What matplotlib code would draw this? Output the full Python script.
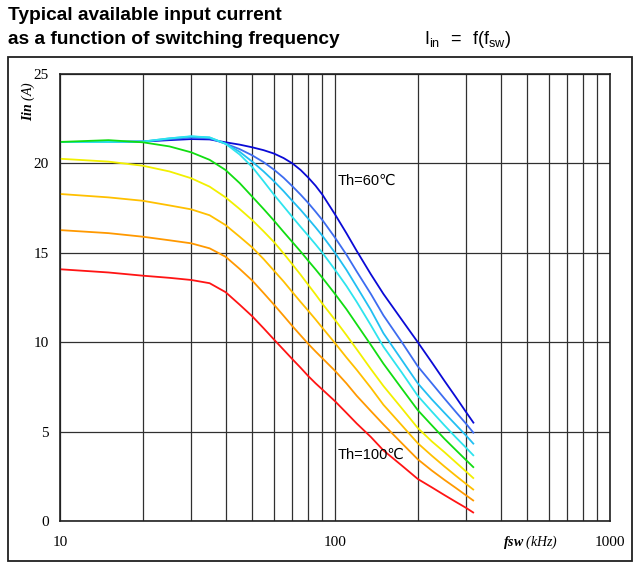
import matplotlib
matplotlib.use('Agg')
import matplotlib.pyplot as plt
from matplotlib.patches import Rectangle
from matplotlib.ticker import LogLocator, FixedFormatter, NullFormatter

plt.rcParams['mathtext.fontset'] = 'custom'
plt.rcParams['mathtext.rm'] = 'Liberation Serif:italic'
plt.rcParams['mathtext.it'] = 'Liberation Serif:italic'
plt.rcParams['mathtext.bf'] = 'Liberation Serif:italic:bold'

# switching frequency (kHz)
freq = [10, 15, 20, 25, 30, 35, 40, 45, 50, 55, 60, 65, 70, 75, 80, 85, 90,
        100, 110, 120, 135, 150, 175, 200, 225, 250, 275, 300, 320]

# available input current (A) per heatsink temperature
iin_60 = [21.2, 21.2, 21.22, 21.3, 21.36, 21.34, 21.18, 21.05, 20.9, 20.74, 20.55, 20.3, 20.0, 19.63, 19.2, 18.75, 18.25,
          17.15, 16.1, 15.1, 13.8, 12.7, 11.25, 10.0, 8.87, 7.84, 6.93, 6.08, 5.46]
iin_65 = [21.2, 21.2, 21.22, 21.35, 21.45, 21.4, 21.1, 20.8, 20.45, 20.07, 19.65, 19.2, 18.72, 18.25, 17.78, 17.3, 16.83,
          15.85, 14.9, 13.95, 12.7, 11.5, 10.0, 8.65, 7.7, 6.85, 6.1, 5.43, 4.9]
iin_70 = [21.2, 21.2, 21.22, 21.4, 21.5, 21.45, 21.1, 20.65, 20.1, 19.55, 19.0, 18.45, 17.9, 17.4, 16.9, 16.42, 15.95,
          15.0, 14.05, 13.1, 11.8, 10.5, 9.0, 7.7, 6.8, 6.05, 5.38, 4.77, 4.29]
iin_75 = [21.2, 21.2, 21.22, 21.4, 21.52, 21.45, 21.1, 20.5, 19.8, 19.0, 18.25, 17.6, 17.0, 16.45, 15.95, 15.47, 15.0,
          14.05, 13.15, 12.25, 10.95, 9.75, 8.3, 7.0, 6.12, 5.35, 4.68, 4.09, 3.64]
iin_80 = [21.2, 21.3, 21.18, 20.95, 20.62, 20.2, 19.63, 18.9, 18.14, 17.45, 16.8, 16.17, 15.6, 15.07, 14.55, 14.07, 13.6,
          12.7, 11.85, 11.0, 9.85, 8.8, 7.4, 6.2, 5.35, 4.6, 3.97, 3.4, 2.98]
iin_85 = [20.26, 20.1, 19.87, 19.55, 19.17, 18.7, 18.1, 17.45, 16.83, 16.2, 15.6, 14.97, 14.35, 13.77, 13.2, 12.67, 12.15,
          11.25, 10.4, 9.6, 8.5, 7.55, 6.3, 5.2, 4.45, 3.85, 3.28, 2.76, 2.37]
iin_90 = [18.29, 18.1, 17.91, 17.65, 17.43, 17.1, 16.55, 15.9, 15.3, 14.65, 14.0, 13.4, 12.8, 12.25, 11.75, 11.27, 10.8,
          9.95, 9.15, 8.45, 7.45, 6.5, 5.35, 4.35, 3.65, 3.05, 2.53, 2.07, 1.73]
iin_95 = [16.27, 16.1, 15.9, 15.7, 15.53, 15.25, 14.78, 14.1, 13.45, 12.75, 12.1, 11.48, 10.9, 10.38, 9.9, 9.48, 9.1,
          8.4, 7.7, 7.0, 6.15, 5.4, 4.35, 3.45, 2.82, 2.3, 1.85, 1.43, 1.12]
iin_100 = [14.08, 13.9, 13.72, 13.6, 13.48, 13.3, 12.8, 12.1, 11.45, 10.78, 10.15, 9.58, 9.05, 8.57, 8.1, 7.7, 7.35,
           6.7, 6.05, 5.45, 4.7, 3.95, 3.1, 2.35, 1.88, 1.45, 1.07, 0.73, 0.45]

curves = [iin_60, iin_65, iin_70, iin_75, iin_80, iin_85, iin_90, iin_95, iin_100]
colors = ['#0a0ad6', '#3d6cf0', '#22bff2', '#2ee4ee', '#11dd11',
          '#f2f000', '#ffc000', '#ff9900', '#ff1414']

fig = plt.figure(figsize=(6.43, 5.63), dpi=100)
ax = fig.add_axes([60 / 643, 1 - 521 / 563, 550 / 643, 447 / 563])

for vals, c in zip(curves, colors):
    ax.plot(freq, vals, color=c, lw=1.3, solid_capstyle='butt', solid_joinstyle='round')

ax.set_xscale('log')
ax.set_xlim(10, 1000)
ax.set_ylim(0, 25)
ax.set_yticks([0, 5, 10, 15, 20, 25])
ax.xaxis.set_minor_locator(LogLocator(base=10, subs=range(2, 10), numticks=20))
ax.xaxis.set_minor_formatter(NullFormatter())
ax.set_xticks([10, 100, 1000])
ax.xaxis.set_major_formatter(FixedFormatter(['10', '100', '1000']))

ax.grid(True, which='both', axis='x', color='#303030', lw=0.9)
ax.grid(True, which='major', axis='y', color='#303030', lw=0.9)
ax.tick_params(which='both', length=0)
ax.tick_params(axis='y', pad=8, labelsize=11)
ax.tick_params(axis='x', pad=11, labelsize=11)
for lab in ax.get_xticklabels() + ax.get_yticklabels():
    lab.set_fontfamily('Liberation Serif')
for sp in ax.spines.values():
    sp.set_linewidth(1.2)
    sp.set_color('#202020')

th_font = ['Liberation Sans', 'DejaVu Sans']
ax.text(102, 19.0, 'Th=60\u2103', fontsize=10.5, family=th_font, va='center', ha='left')
ax.text(102, 3.7, 'Th=100\u2103', fontsize=10.5, family=th_font, va='center', ha='left')

# axis labels sit inside the frame, next to the tick labels
fig.text(531 / 643, 1 - 542 / 563, r'$\mathbf{fsw}$ (kHz)', ha='center', va='center',
         fontsize=10, family='Liberation Serif', style='italic')
fig.text(28 / 643, 1 - 101 / 563, r'$\mathbf{Iin}$ (A)', ha='center', va='center',
         rotation=90, fontsize=10, family='Liberation Serif', style='italic')

fig.text(8 / 643, 1 - 15 / 563, 'Typical available input current', fontsize=13.8,
         fontweight='bold', family='Liberation Sans', va='center', ha='left')
fig.text(8 / 643, 1 - 40 / 563, 'as a function of switching frequency', fontsize=13.8,
         fontweight='bold', family='Liberation Sans', va='center', ha='left')
fig.text(424 / 643, 1 - 40 / 563, r'$\mathregular{I_{in}\ \ =\ \ f(f_{sw})}$', fontsize=13,
         family='Liberation Sans', va='center', ha='left')

fig.add_artist(Rectangle((8 / 643, 1 - 561 / 563), 624 / 643, 504 / 563,
                         transform=fig.transFigure, fill=False, lw=1.3, ec='#202020'))

fig.savefig('out.png', dpi=100)
